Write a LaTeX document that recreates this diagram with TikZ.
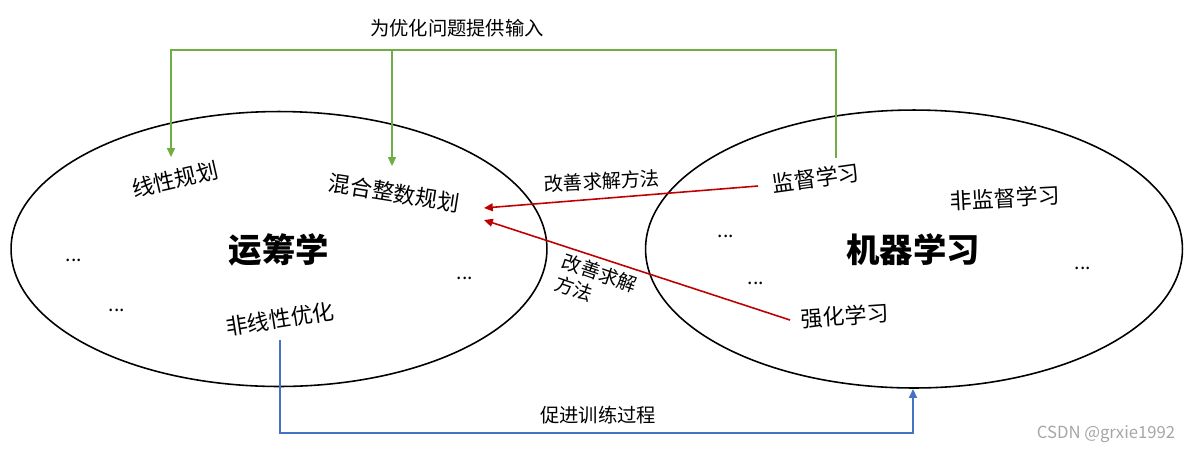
\documentclass[tikz,border=0pt]{standalone}
\usepackage{fontspec}
\setmainfont{Noto Sans CJK SC}
\usetikzlibrary{arrows.meta,shapes.geometric}
\definecolor{feed}{HTML}{70AD47}
\definecolor{improve}{HTML}{C00000}
\definecolor{train}{HTML}{4472C4}

\begin{document}
\begin{tikzpicture}[x=0.02cm, y=-0.02cm,
  field/.style={draw, ellipse, line width=0.9pt, inner sep=0pt},
  title/.style={font=\fontsize{19}{22}\selectfont\bfseries},
  topic/.style={font=\fontsize{12.5}{15}\selectfont, inner sep=1pt},
  note/.style={font=\fontsize{11}{13}\selectfont, inner sep=1pt, align=left},
  dots/.style={font=\fontsize{11}{13}\selectfont},
  link/.style={line width=0.9pt, -{Triangle[length=5pt,width=4.5pt]}}
]
\useasboundingbox (0,0) rectangle (1196,451);

\node[field, minimum width=10.72cm, minimum height=5.5cm] (or) at (279,249) {};
\node[field, minimum width=10.74cm, minimum height=5.56cm] (ml) at (914,249) {};

\node[title] (ortitle) at (279,250) {运筹学};
\node[title] (mltitle) at (913,250) {机器学习};

\node[topic, rotate=13]  (lp)   at (175,179) {线性规划};
\node[topic, rotate=-9]  (milp) at (394,193) {混合整数规划};
\node[topic, rotate=9]   (nlp)  at (280,319) {非线性优化};
\node[dots] (ordots1) at (74,260)  {...};
\node[dots] (ordots2) at (117,310) {...};
\node[dots] (ordots3) at (465,278) {...};

\node[topic, rotate=8]   (sup)   at (816,178) {监督学习};
\node[topic, rotate=3]   (unsup) at (1005,198) {非监督学习};
\node[topic, rotate=4]   (rl)    at (845,316) {强化学习};
\node[dots] (mldots1) at (726,236)  {...};
\node[dots] (mldots2) at (756,283)  {...};
\node[dots] (mldots3) at (1083,268) {...};

\coordinate (lpin)   at (171,157);
\coordinate (milpin) at (392,166);
\coordinate (supout) at (836,158);
\coordinate (top)    at (836,50);
\coordinate (milpa)  at (484,208);
\coordinate (milpb)  at (484,220);
\coordinate (supa)   at (758,186);
\coordinate (rla)    at (790,320);
\coordinate (nlpout) at (280,340);
\coordinate (mlin)   at (913,389);

\draw[link, feed] (supout) -- (top) -| (lpin);
\draw[link, feed] (392,50) -- (milpin);
\node[note] (feedlabel) at (457,28) {为优化问题提供输入};

\draw[link, improve] (supa) -- (milpa);
\draw[link, improve] (rla) -- (milpb);
\node[note, rotate=3] (improvea) at (602,181) {改善求解方法};
\node[note, rotate=-19] (improveb) at (596,284) {改善求解\\方法};

\draw[link, train] (nlpout) |- (600,433) -| (mlin);
\node[note] (trainlabel) at (598,415) {促进训练过程};

\node[font=\fontsize{9.5}{11}\selectfont, text=gray!70] (mark) at (1106,434) {CSDN @grxie1992};
\end{tikzpicture}
\end{document}
